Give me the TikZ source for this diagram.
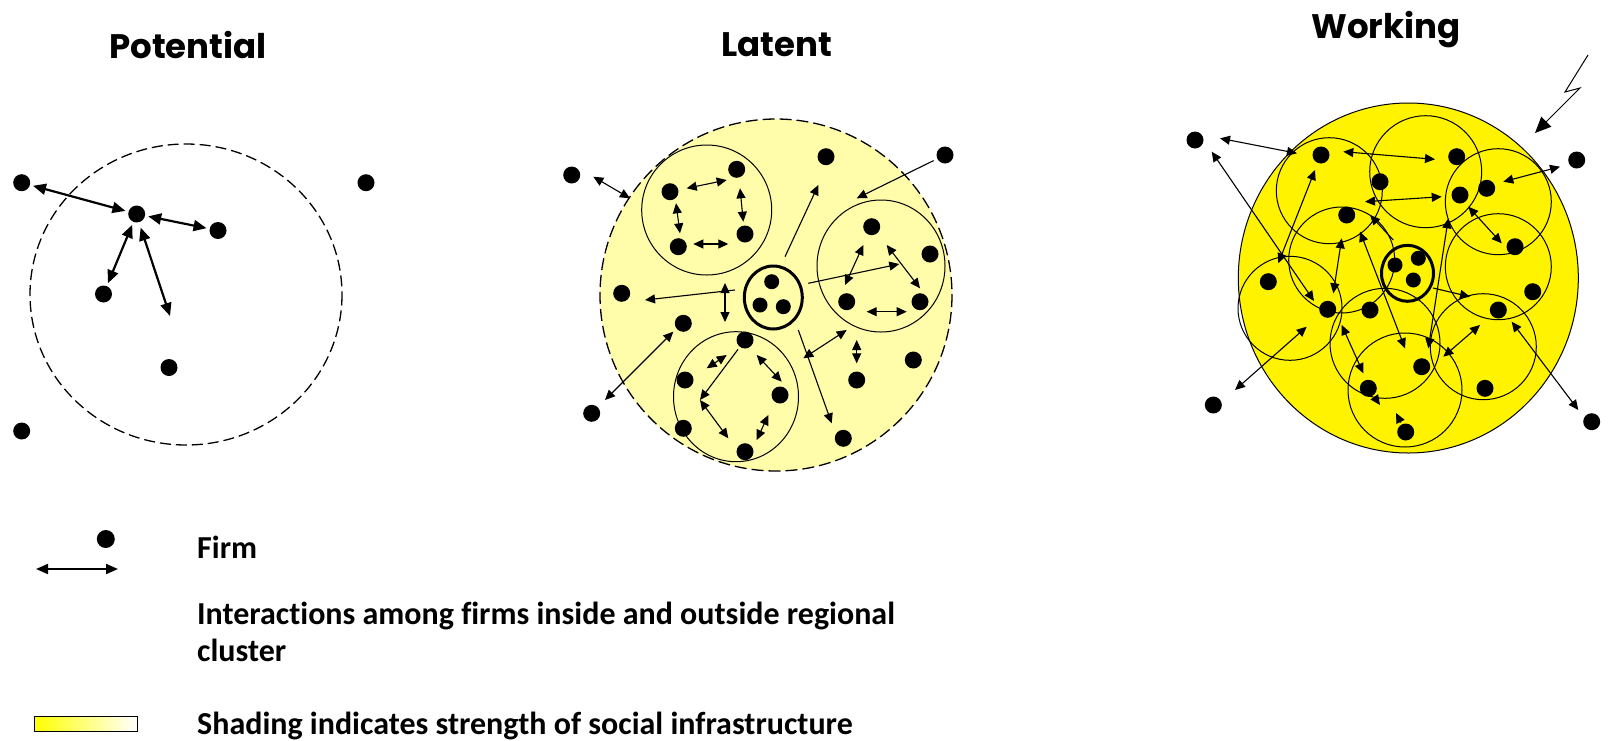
\documentclass[tikz,border=0pt]{standalone}
\usepackage{fontspec}
\setmainfont{Carlito}[Ligatures=NoCommon]
\newfontfamily\titlefont{Poppins}
\usetikzlibrary{arrows.meta,shapes.geometric}
\definecolor{latentyellow}{RGB}{255,252,170}
\definecolor{workyellow}{RGB}{255,243,0}
\begin{document}
\begin{tikzpicture}[x=1pt,y=-1pt,
  firm/.style={circle,fill=black,inner sep=0pt,minimum size=17pt},
  lfirm/.style={circle,fill=black,inner sep=0pt,minimum size=17pt},
  cfirm/.style={circle,fill=black,inner sep=0pt,minimum size=15pt},
  potlink/.style={line width=2.2pt,{Triangle[length=13pt,width=11pt]}-{Triangle[length=13pt,width=11pt]},shorten <=3pt,shorten >=3pt},
  twoway/.style={line width=1.1pt,{Triangle[length=10pt,width=9pt]}-{Triangle[length=10pt,width=9pt]}},
  oneway/.style={line width=1.1pt,-{Triangle[length=10pt,width=9pt]}},
  subcluster/.style={draw,line width=1pt},
  title/.style={font=\titlefont\bfseries\fontsize{34}{40}\selectfont,anchor=base},
  legendtext/.style={font=\bfseries\fontsize{32}{38}\selectfont,anchor=base west,inner sep=0pt}
]
\useasboundingbox (0,0) rectangle (1610,740);

% ---------- titles ----------
\node[title] (tpot) at (188,58) {Potential};
\node[title] (tlat) at (777,56) {Latent};
\node[title] (twork) at (1386,38) {Working};

% ---------- Potential ----------
\draw[dashed,dash pattern=on 11pt off 5pt,line width=1.3pt] (186,294.5) ellipse [x radius=156,y radius=150.5];
\node[firm] (pA) at (21.7,182.7) {};
\node[firm] (pB) at (366,182.7) {};
\node[firm] (pC) at (136.7,214) {};
\node[firm] (pD) at (218,230.5) {};
\node[firm] (pE) at (103.5,294) {};
\node[firm] (pF) at (169,367.5) {};
\node[firm] (pG) at (21.7,431) {};
\coordinate (pfree) at (170,316);
\draw[potlink] (pC) -- (pA);
\draw[potlink] (pC) -- (pD);
\draw[potlink] (pC) -- (pE);
\draw[potlink,shorten >=0pt] (pC.south) ++(3,2) -- (pfree);

% ---------- Latent ----------
\draw[fill=latentyellow,line width=1.3pt,dash pattern=on 12pt off 5pt] (776,295) circle [radius=176];
\draw[subcluster] (706.7,210) circle [radius=65];
\draw[subcluster] (881,266) ellipse [x radius=64,y radius=66];
\draw[subcluster] (736,396.7) ellipse [x radius=62.5,y radius=65];
\draw[line width=3pt] (773.3,297.5) ellipse [x radius=29,y radius=31.5];

\node[lfirm] (lOutL) at (571.7,175) {};
\node[lfirm] (lTop) at (826,156.7) {};
\node[lfirm] (lOutR) at (945,155) {};
\node[lfirm] (lLeft) at (621.7,293.3) {};
\node[lfirm] (lLL) at (683.3,323.3) {};
\node[lfirm] (lOutLL) at (591.7,413.3) {};
\node[lfirm] (lR1) at (913.3,360) {};
\node[lfirm] (lR2) at (856.7,380) {};
\node[lfirm] (lBot) at (843.3,438.3) {};
\node[lfirm] (ua) at (670,191.7) {};
\node[lfirm] (ub) at (736.7,169.3) {};
\node[lfirm] (uc) at (745,234) {};
\node[lfirm] (ud) at (678.3,246.7) {};
\node[lfirm] (ra) at (871.7,226.7) {};
\node[lfirm] (rb) at (930,254) {};
\node[lfirm] (rc) at (846.7,301.7) {};
\node[lfirm] (rd) at (920,301.7) {};
\node[lfirm] (la) at (745,340) {};
\node[lfirm] (lb) at (685,380) {};
\node[lfirm] (lc) at (780,395) {};
\node[lfirm] (ld) at (683.3,428.3) {};
\node[lfirm] (le) at (745,451.7) {};
\node[cfirm] (ca) at (771.7,281.7) {};
\node[cfirm] (cb) at (760,305) {};
\node[cfirm] (cc) at (783.3,306.7) {};

\coordinate (l1a) at (593.3,176.7); \coordinate (l1b) at (630,198.3);
\draw[twoway] (l1a) -- (l1b);
\coordinate (l2a) at (785,256.7); \coordinate (l2b) at (818.3,185);
\draw[oneway] (l2a) -- (l2b);
\coordinate (l3b) at (856.7,198.3);
\draw[oneway,shorten <=4pt] (lOutR) -- (l3b);
\coordinate (l4a) at (735,290); \coordinate (l4b) at (645,300);
\draw[oneway] (l4a) -- (l4b);
\coordinate (l5a) at (725,283); \coordinate (l5b) at (725,322);
\draw[twoway] (l5a) -- (l5b);
\coordinate (l6a) at (605,400); \coordinate (l6b) at (673.3,331.7);
\draw[twoway] (l6a) -- (l6b);
\coordinate (l7a) at (808.3,283.3); \coordinate (l7b) at (899.3,264);
\draw[oneway] (l7a) -- (l7b);
% upper-left cluster
\coordinate (u1a) at (686.7,188.3); \coordinate (u1b) at (726.7,180);
\draw[twoway] (u1a) -- (u1b);
\coordinate (u2a) at (740,188.3); \coordinate (u2b) at (743.3,221.7);
\draw[twoway] (u2a) -- (u2b);
\coordinate (u3a) at (693.3,244); \coordinate (u3b) at (728.3,244);
\draw[twoway] (u3a) -- (u3b);
\coordinate (u4a) at (676,203.3); \coordinate (u4b) at (680,233.3);
\draw[twoway] (u4a) -- (u4b);
% right cluster
\coordinate (r1a) at (863.3,245); \coordinate (r1b) at (845,285);
\draw[twoway] (r1a) -- (r1b);
\coordinate (r2a) at (886.7,245); \coordinate (r2b) at (920,288.3);
\draw[twoway] (r2a) -- (r2b);
\coordinate (r3a) at (866.7,311.7); \coordinate (r3b) at (906.7,311.7);
\draw[twoway] (r3a) -- (r3b);
% lower cluster
\coordinate (b1a) at (726.7,355); \coordinate (b1b) at (706.7,368.3);
\draw[twoway] (b1a) -- (b1b);
\coordinate (b2) at (700,400);
\draw[oneway,shorten <=3pt] (la) -- (b2);
\coordinate (b3b) at (728.3,438.3);
\draw[twoway] (b2) -- (b3b);
\coordinate (b4a) at (756.7,355); \coordinate (b4b) at (781.7,381.7);
\draw[twoway] (b4a) -- (b4b);
\coordinate (b5a) at (768.3,415); \coordinate (b5b) at (756.7,440);
\draw[twoway] (b5a) -- (b5b);
% right lower
\coordinate (l8a) at (798.3,330); \coordinate (l8b) at (831.7,423.3);
\draw[oneway] (l8a) -- (l8b);
\coordinate (l9a) at (803.3,358.3); \coordinate (l9b) at (846.7,330);
\draw[twoway] (l9a) -- (l9b);
\coordinate (l10a) at (856.7,340); \coordinate (l10b) at (856.7,363.3);
\draw[twoway] (l10a) -- (l10b);

% ---------- Working ----------
\draw[fill=workyellow,line width=1pt] (1408.3,278) ellipse [x radius=170,y radius=175];
\draw[subcluster] (1425.7,171.7) circle [radius=56];
\draw[subcluster] (1329.3,190.7) circle [radius=53];
\draw[subcluster] (1498.3,201.7) circle [radius=53];
\draw[subcluster] (1341.7,260) circle [radius=53];
\draw[subcluster] (1290,308.3) circle [radius=52];
\draw[subcluster] (1498.3,266.7) circle [radius=53];
\draw[subcluster] (1483.3,346.7) circle [radius=53];
\draw[subcluster] (1385,343.3) circle [radius=55];
\draw[subcluster] (1405,390) circle [radius=57];
\draw[line width=3pt] (1407.5,273.3) ellipse [x radius=26,y radius=28];

\node[lfirm] (wOutL) at (1195,140) {};
\node[lfirm] (wOutR) at (1576.7,160) {};
\node[lfirm] (wOutLL) at (1213.3,405) {};
\node[lfirm] (wOutLR) at (1591.7,421.7) {};
\node[lfirm] (w1) at (1321,155) {};
\node[lfirm] (w2) at (1456.7,156.7) {};
\node[lfirm] (w3) at (1380,181.7) {};
\node[lfirm] (w4) at (1460,195) {};
\node[lfirm] (w5) at (1486.7,188.3) {};
\node[lfirm] (w6) at (1346.7,215) {};
\node[lfirm] (w7) at (1515,246.7) {};
\node[lfirm] (w8) at (1268.3,281.7) {};
\node[lfirm] (w9) at (1532.7,291.7) {};
\node[lfirm] (w10) at (1327.7,309.3) {};
\node[lfirm] (w11) at (1370,310) {};
\node[lfirm] (w12) at (1498.3,310) {};
\node[lfirm] (w13) at (1421.7,366.7) {};
\node[lfirm] (w14) at (1368.3,388.3) {};
\node[lfirm] (w15) at (1485,388.3) {};
\node[lfirm] (w16) at (1405.7,432) {};
\node[cfirm] (wc1) at (1395,265) {};
\node[cfirm] (wc2) at (1418.3,258.3) {};
\node[cfirm] (wc3) at (1413.3,280) {};

\coordinate (a1a) at (1220,138.3); \coordinate (a1b) at (1297,153.3);
\draw[twoway] (a1a) -- (a1b);
\coordinate (a2a) at (1211.7,151.7); \coordinate (a2b) at (1314,301);
\draw[twoway] (a2a) -- (a2b);
\coordinate (a3a) at (1343.3,151.7); \coordinate (a3b) at (1435,159.3);
\draw[twoway] (a3a) -- (a3b);
\coordinate (a4a) at (1560,166.7); \coordinate (a4b) at (1503.3,181.7);
\draw[twoway] (a4a) -- (a4b);
\coordinate (a5a) at (1365,201.7); \coordinate (a5b) at (1441.7,196.7);
\draw[twoway] (a5a) -- (a5b);
\coordinate (a6a) at (1468.3,206.7); \coordinate (a6b) at (1501.7,243.3);
\draw[twoway] (a6a) -- (a6b);
\coordinate (a7a) at (1448.3,218.3); \coordinate (a7b) at (1428.3,348.3);
\draw[twoway] (a7a) -- (a7b);
\coordinate (a8a) at (1315,170); \coordinate (a8b) at (1278.3,263.3);
\draw[twoway] (a8a) -- (a8b);
\coordinate (a9a) at (1341.7,238.3); \coordinate (a9b) at (1333.3,293.3);
\draw[twoway] (a9a) -- (a9b);
\coordinate (a10a) at (1360,231.7); \coordinate (a10b) at (1405,348.3);
\draw[twoway] (a10a) -- (a10b);
\coordinate (a11a) at (1393.3,240); \coordinate (a11b) at (1370,215);
\draw[oneway] (a11a) -- (a11b);
\coordinate (a12a) at (1235,390); \coordinate (a12b) at (1306.7,326.7);
\draw[twoway] (a12a) -- (a12b);
\coordinate (a13a) at (1341.7,325); \coordinate (a13b) at (1363.3,373.3);
\draw[twoway] (a13a) -- (a13b);
\coordinate (a14a) at (1443.3,356.7); \coordinate (a14b) at (1480,325);
\draw[twoway] (a14a) -- (a14b);
\coordinate (a15a) at (1433,288); \coordinate (a15b) at (1470,296.7);
\draw[oneway] (a15a) -- (a15b);
\coordinate (a16a) at (1511.7,321.7); \coordinate (a16b) at (1578.3,410);
\draw[twoway] (a16a) -- (a16b);
\coordinate (a17a) at (1380,405); \coordinate (a17b) at (1396,413);
\draw[oneway,shorten <=2pt] (w14) -- (a17a);
\draw[oneway,shorten <=2pt] (w16) -- (a17b);
% lightning
\coordinate (z1) at (1588,55); \coordinate (z2) at (1565,92);
\coordinate (z3) at (1580,88); \coordinate (z4) at (1535,133);
\draw[line width=1pt,-{Triangle[length=16pt,width=14pt]}] (z1) -- (z2) -- (z3) -- (z4);

% ---------- legend ----------
\node[circle,fill=black,inner sep=0pt,minimum width=15pt,minimum height=18pt] (legfirm) at (105.8,539) {};
\coordinate (lega) at (36,569); \coordinate (legb) at (118,569);
\draw[line width=2pt,{Triangle[length=12pt,width=10pt]}-{Triangle[length=12pt,width=10pt]}] (lega) -- (legb);
\node[draw=black,line width=1pt,left color=yellow,right color=white,minimum width=103pt,minimum height=15pt,inner sep=0pt] (legshade) at (85.5,723.5) {};
\node[legendtext] (tfirm) at (197,558) {Firm};
\node[legendtext] (tinter) at (197,624) {Interactions among firms inside and outside regional};
\node[legendtext] (tclus) at (197,661) {cluster};
\node[legendtext] (tshade) at (197,734) {Shading indicates strength of social infrastructure};
\end{tikzpicture}
\end{document}
